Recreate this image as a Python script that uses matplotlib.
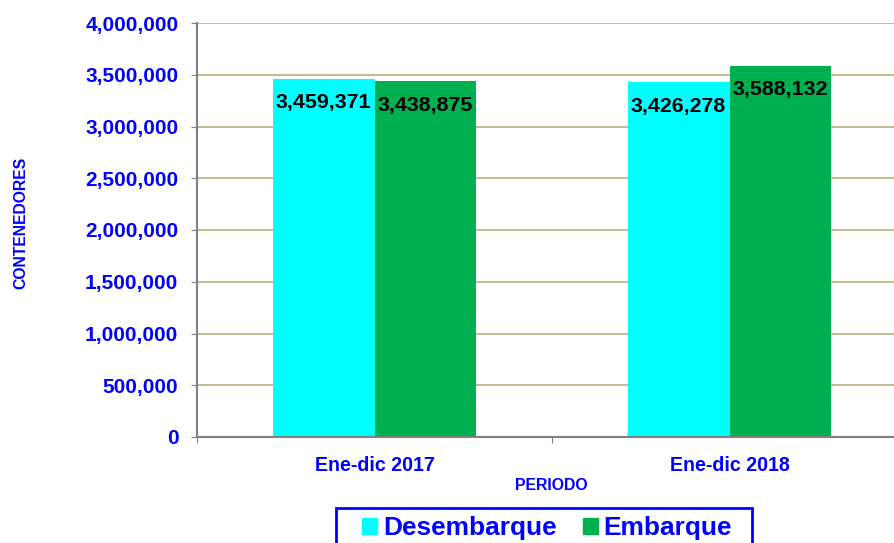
import matplotlib.pyplot as plt
import numpy as np
from matplotlib.patches import Patch, Rectangle
from matplotlib.ticker import FuncFormatter

periodos = ["Ene-dic 2017", "Ene-dic 2018"]
desembarque = [3459371, 3426278]
embarque = [3438875, 3588132]
series = ["Desembarque", "Embarque"]
colores = ["#00FFFF", "#00B050"]

blue = "#0000FF"
plt.rcParams['font.family'] = ['Liberation Sans', 'DejaVu Sans']

W, H = 894, 543
fig = plt.figure(figsize=(W / 100, H / 100), dpi=100)
# axes runs a bit past the right edge like the original
ax = fig.add_axes([197 / W, 1 - 437 / H, 710 / W, 414 / H])

x = np.arange(len(periodos))
w = 0.287
b1 = ax.bar(x - w / 2, desembarque, w, color=colores[0], zorder=2)
b2 = ax.bar(x + w / 2, embarque, w, color=colores[1], zorder=2)

for bars, vals in ((b1, desembarque), (b2, embarque)):
    for r, v in zip(bars, vals):
        ax.annotate(f"{v:,}", (r.get_x() + r.get_width() / 2, v),
                    xytext=(0, -24), textcoords="offset pixels",
                    ha="center", va="center", fontsize=15.4, fontweight="bold", color="black")

ax.set_xlim(-0.5, 1.5)
ax.set_ylim(0, 4000000)
ax.set_yticks(np.arange(0, 4000001, 500000))
ax.yaxis.set_major_formatter(FuncFormatter(lambda v, p: f"{int(v):,}"))
ax.set_xticks([-0.5, 0.5, 1.5])
ax.set_xticklabels(["", "", ""])
ax.set_xticks(x, minor=True)
ax.set_xticklabels(periodos, minor=True)
ax.tick_params(axis="x", which="minor", length=0, pad=13.5)
ax.tick_params(axis="x", which="major", length=4.5, color="#808080")
ax.tick_params(axis="y", length=4.5, color="#808080", pad=9)
for lab in ax.get_yticklabels():
    lab.set_color(blue)
    lab.set_fontweight("bold")
    lab.set_fontsize(15)
for lab in ax.get_xticklabels(minor=True):
    lab.set_color(blue)
    lab.set_fontweight("bold")
    lab.set_fontsize(14.1)

ax.grid(axis="y", color="#C4BC96", linewidth=1.5, zorder=0)
ax.set_axisbelow(True)
for s in ["top", "right"]:
    ax.spines[s].set_visible(False)
for s in ["left", "bottom"]:
    ax.spines[s].set_color("#808080")
    ax.spines[s].set_linewidth(1.5)

fig.text(21 / W, 1 - 223 / H, "CONTENEDORES", rotation=90, ha="center", va="center",
         color=blue, fontsize=11.3, fontweight="bold")
fig.text(551 / W, 1 - 485 / H, "PERIODO", ha="center", va="center",
         color=blue, fontsize=11.4, fontweight="bold")

# legend box, cut by the bottom edge as in the original
fig.patches.append(Rectangle((336 / W, -0.05), (752 - 336) / W, 0.05 + 1 - 508 / H,
                             transform=fig.transFigure, fill=False, edgecolor=blue,
                             linewidth=2, figure=fig))
handles = [Patch(color=c) for c in colores]
leg = fig.legend(handles, series, loc="upper center", bbox_to_anchor=(547 / W, 1 - 516 / H),
                 ncol=2, frameon=False, handlelength=0.57, handleheight=0.57,
                 handletextpad=0.23, columnspacing=1.0, borderpad=0, borderaxespad=0,
                 prop={"size": 18.9, "weight": "bold"})
for t in leg.get_texts():
    t.set_color(blue)

fig.savefig("out.png", dpi=100)
